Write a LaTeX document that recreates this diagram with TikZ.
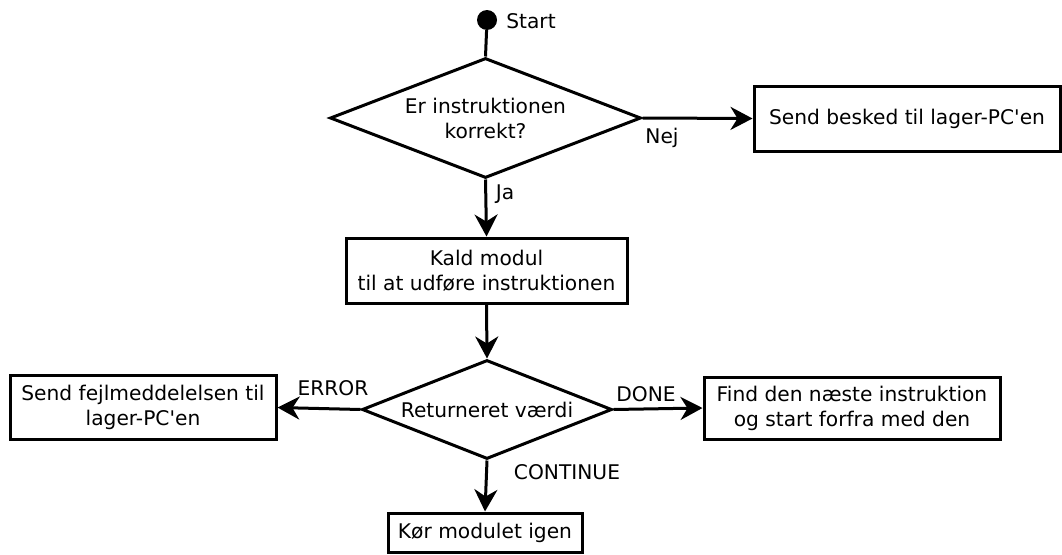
\documentclass[tikz,border=0pt]{standalone}
\usepackage{fontspec}
\setmainfont{DejaVu Sans}
\usetikzlibrary{shapes.geometric,arrows.meta}
\begin{document}
\begin{tikzpicture}[x=1pt,y=-1pt,
  every node/.style={font=\fontsize{20.2}{25}\selectfont},
  stepbox/.style={draw,line width=3pt,rectangle,align=center,inner sep=0pt},
  decision/.style={draw,line width=3pt,diamond,align=center,inner sep=0pt},
  flow/.style={line width=3pt,-{Stealth[length=22pt,width=23pt,inset=7pt]}},
  tag/.style={inner sep=0pt}]
\useasboundingbox (0,0) rectangle (1062,554);

% start marker
\node[circle,fill,inner sep=0pt,minimum size=20pt] (start) at (487,20) {};
\node[tag] (starttxt) at (531,21) {Start};

% first decision and its outcomes
\node[decision,aspect=2.59,minimum width=311pt,minimum height=120pt] (check) at (485.5,118)
  {Er instruktionen\\korrekt?};
\node[stepbox,minimum width=306pt,minimum height=65pt] (notify) at (907,118.5)
  {Send besked til lager-PC\textquotesingle en};
\node[stepbox,minimum width=281pt,minimum height=65pt] (call) at (486.5,270.5)
  {Kald modul\\til at udføre instruktionen};

% second decision and its outcomes
\node[decision,aspect=2.52,minimum width=250pt,minimum height=99pt] (result) at (487,409.5)
  {Returneret værdi};
\node[stepbox,minimum width=266pt,minimum height=64pt] (error) at (143,407.5)
  {Send fejlmeddelelsen til\\lager-PC\textquotesingle en};
\node[stepbox,minimum width=296pt,minimum height=62pt] (next) at (852,408)
  {Find den næste instruktion\\og start forfra med den};
\node[stepbox,minimum width=194pt,minimum height=39pt] (again) at (485,532.5)
  {Kør modulet igen};

% connectors
\draw[line width=3pt] (start) -- (check.north);
\draw[flow] (check.east) -- (notify.west);
\draw[flow] (check.south) -- (call.north);
\draw[flow] (call.south) -- (result.north);
\draw[flow] (result.west) -- (error.east);
\draw[flow] (result.east) -- (next.west);
\draw[flow] (result.south) -- (again.north);

% branch labels
\node[tag] (nej) at (662,138) {Nej};
\node[tag] (ja) at (505,194) {Ja};
\node[tag] (errtxt) at (333,388) {ERROR};
\node[tag] (donetxt) at (646,394) {DONE};
\node[tag] (conttxt) at (567,472) {CONTINUE};
\end{tikzpicture}
\end{document}
